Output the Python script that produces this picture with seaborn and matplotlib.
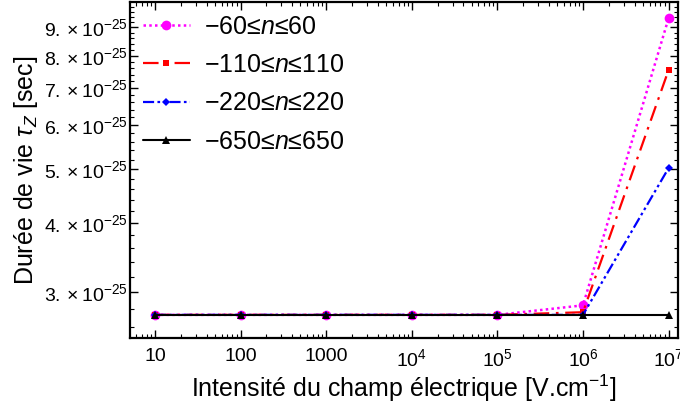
import numpy as np
import pandas as pd
import matplotlib
matplotlib.use("Agg")
import matplotlib.pyplot as plt
import matplotlib.ticker as mticker
import seaborn as sns

# ---- data ----
field = [10, 100, 1000, 1e4, 1e5, 1e6, 1e7]
tau_60 = [2.73e-25, 2.73e-25, 2.73e-25, 2.73e-25, 2.73e-25, 2.84e-25, 9.35e-25]
tau_110 = [2.73e-25, 2.73e-25, 2.73e-25, 2.73e-25, 2.73e-25, 2.76e-25, 7.54e-25]
tau_220 = [2.73e-25, 2.73e-25, 2.73e-25, 2.73e-25, 2.73e-25, 2.73e-25, 5.02e-25]
tau_650 = [2.73e-25, 2.73e-25, 2.73e-25, 2.73e-25, 2.73e-25, 2.73e-25, 2.73e-25]
labels = ["−60≤$n$≤60", "−110≤$n$≤110", "−220≤$n$≤220", "−650≤$n$≤650"]
x_ticks = [10, 100, 1000, 1e4, 1e5, 1e6, 1e7]
x_ticklabels = ["10", "100", "1000", r"$10^4$", r"$10^5$", r"$10^6$", r"$10^7$"]
y_ticks = [3e-25, 4e-25, 5e-25, 6e-25, 7e-25, 8e-25, 9e-25]
y_ticklabels = [r"$%d.\times10^{-25}$" % k for k in range(3, 10)]

sns.set_theme(style="ticks")
plt.rcParams["font.family"] = ["Liberation Sans", "DejaVu Sans"]
plt.rcParams["mathtext.fontset"] = "custom"
plt.rcParams["mathtext.rm"] = "Liberation Sans"
plt.rcParams["mathtext.it"] = "Liberation Sans:italic"
plt.rcParams["mathtext.bf"] = "Liberation Sans:bold"
plt.rcParams["text.color"] = "black"
plt.rcParams["axes.labelcolor"] = "black"
plt.rcParams["xtick.color"] = "black"
plt.rcParams["ytick.color"] = "black"

fig = plt.figure(figsize=(6.8, 4.12), dpi=100)
ax = fig.add_axes([130 / 680, (412 - 338) / 412, 548 / 680, 336 / 412])

styles = [
    dict(color="#FF00FF", linestyle=(0, (1, 1.3)), marker="o", markersize=7, lw=1.8),
    dict(color="#FF0000", linestyle=(0, (7, 3, 1.2, 3)), marker="s", markersize=5, lw=1.6),
    dict(color="#0000FF", linestyle=(0, (5, 1.5, 1.2, 1.5, 1.2, 1.5)), marker="D", markersize=4.5, lw=1.6),
    dict(color="#000000", linestyle="-", marker="^", markersize=5.5, lw=1.5),
]
series = [tau_60, tau_110, tau_220, tau_650]
for vals, lab, st in zip(series, labels, styles):
    df = pd.DataFrame({"E": field, "tau": vals})
    sns.lineplot(data=df, x="E", y="tau", ax=ax, label=lab, color=st["color"],
                 linestyle=st["linestyle"], marker=st["marker"], markersize=st["markersize"],
                 linewidth=st["lw"], markeredgewidth=0, markeredgecolor=st["color"])

ax.set_xscale("log")
ax.set_yscale("log")
ax.set_xlim(5.1, 10 ** 7.11)
ax.set_ylim(2.48e-25, 1.0e-24)

ax.xaxis.set_major_locator(mticker.FixedLocator(x_ticks))
ax.xaxis.set_major_formatter(mticker.FixedFormatter(x_ticklabels))
ax.xaxis.set_minor_locator(mticker.LogLocator(base=10, subs=np.arange(2, 10), numticks=20))
ax.xaxis.set_minor_formatter(mticker.NullFormatter())

ax.yaxis.set_major_locator(mticker.FixedLocator(y_ticks))
ax.yaxis.set_major_formatter(mticker.FixedFormatter(y_ticklabels))
ax.yaxis.set_minor_locator(mticker.FixedLocator(np.arange(2.4, 10.0, 0.2) * 1e-25))
ax.yaxis.set_minor_formatter(mticker.NullFormatter())

ax.tick_params(which="both", direction="in", top=True, right=True, color="black")
ax.tick_params(which="major", length=6, width=1.0, labelsize=14, pad=7)
ax.tick_params(which="minor", length=3, width=0.8)
ax.tick_params(axis="y", which="major", labelsize=14, pad=1.5)
for sp in ax.spines.values():
    sp.set_linewidth(1.6)
    sp.set_color("black")

ax.set_xlabel("Intensité du champ électrique [V.cm$^{-1}$]", fontsize=18, labelpad=2)
ax.set_ylabel(r"Durée de vie $\tau_Z$ [sec]", fontsize=18, labelpad=3)

leg = ax.legend(loc="upper left", frameon=False, fontsize=18, handlelength=1.9,
                labelspacing=0.58, borderaxespad=0.25, handletextpad=0.55,
                borderpad=0.25)

fig.savefig("out.png", dpi=100)
